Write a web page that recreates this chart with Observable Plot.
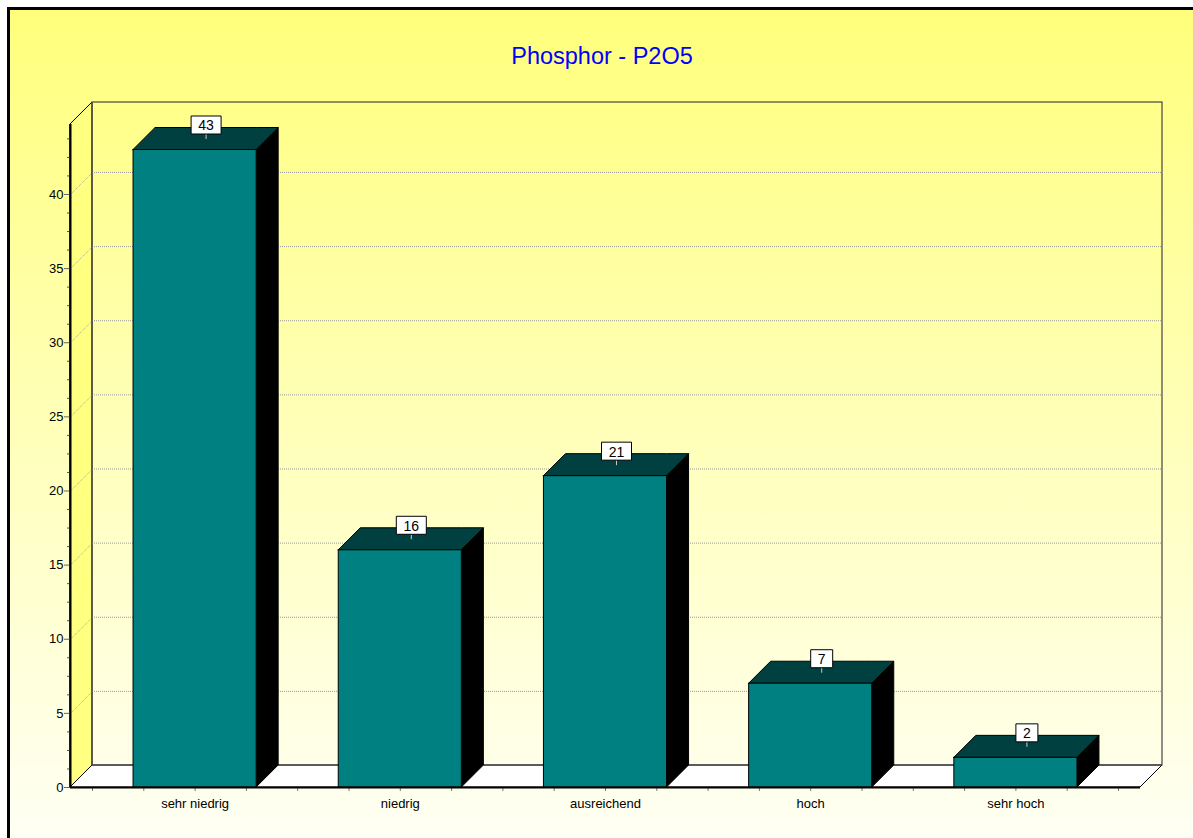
<!DOCTYPE html>
<html>
<head>
<meta charset="utf-8">
<script src="https://cdn.jsdelivr.net/npm/d3@7"></script>
<script src="https://cdn.jsdelivr.net/npm/@observablehq/plot@0.6"></script>
<style>
  html, body { margin: 0; padding: 0; background: #fff; overflow: hidden; }
  #panel {
    position: absolute; left: 7px; top: 7px; width: 1200px; height: 840px;
    border-left: 3px solid #000; border-top: 3px solid #000;
    background: linear-gradient(to bottom, #ffff7c 0%, #fffff6 100%);
  }
  #title {
    position: absolute; left: 0; top: 42px; width: 1204px; text-align: center;
    font: 23.5px/28px "Liberation Sans", Arial, sans-serif; color: #0000ff;
  }
  #chart { position: absolute; left: 0; top: 0; }
</style>
</head>
<body>
<div id="panel"></div>
<div id="title">Phosphor - P2O5</div>
<div id="chart"></div>
<script>
// Soil phosphorus classes and number of samples in each
const categories = ["sehr niedrig", "niedrig", "ausreichend", "hoch", "sehr hoch"];
const counts = [43, 16, 21, 7, 2];
const yTicks = [0, 5, 10, 15, 20, 25, 30, 35, 40];
const yMax = 44.72;

// Layout of the pseudo-3D box
const W = 1193, H = 838;
const mL = 70, mR = 53, mT = 124, mB = 51;
const DEPTH = 22;                                    // depth of the box in pixels
const plotW = W - mL - mR, plotH = H - mT - mB;
const n = categories.length;
const dX = DEPTH * n / (plotW - 2 * DEPTH);          // depth expressed in x units
const dY = DEPTH * yMax / plotH;                     // depth expressed in y units
const xLo = -0.5 - dX, xHi = n - 0.5 + dX;
const half = 0.3;                                    // half bar width in band units

const bars = categories.map((cat, i) => ({cat, i, v: counts[i]}));

// right-hand (shadow) faces
const sides = bars.flatMap(b => [
  {i: b.i, x: b.i + half,      y1: 0,  y2: b.v},
  {i: b.i, x: b.i + half + dX, y1: dY, y2: b.v + dY}
]);
// top faces
const tops = bars.flatMap(b => [
  {i: b.i, x: b.i - half,      y1: b.v,      y2: b.v},
  {i: b.i, x: b.i - half + dX, y1: b.v,      y2: b.v + dY},
  {i: b.i, x: b.i + half,      y1: b.v,      y2: b.v + dY},
  {i: b.i, x: b.i + half + dX, y1: b.v + dY, y2: b.v + dY}
]);
const floor = [
  {x: xLo,      y1: 0,  y2: 0},
  {x: -0.5,     y1: 0,  y2: dY},
  {x: xHi,      y1: 0,  y2: dY},
  {x: xHi + dX, y1: dY, y2: dY}
];
const leftWall = [
  {x: xLo,  y1: 0,  y2: yMax},
  {x: -0.5, y1: dY, y2: yMax + dY}
];
const minorTicks = d3.range(0, yMax, 1.25).filter(t => t % 5 !== 0);
const quarterTicks = d3.range(-0.5, n - 0.5 + 1e-9, 0.25);

const boxSymbol = (w, h) => ({draw(ctx) { ctx.rect(-w / 2, -h / 2, w, h); }});
const stemSymbol = {draw(ctx) { ctx.moveTo(0, 0); ctx.lineTo(0, -5); }};
const labelX = b => b.i + dX / 2;
const labelY = b => b.v + dY / 2;

const chart = Plot.plot({
  width: W, height: H,
  marginLeft: mL, marginRight: mR, marginTop: mT, marginBottom: mB,
  style: {background: "transparent", fontFamily: "'Liberation Sans', Arial, sans-serif", fontSize: "13px", color: "black", overflow: "visible"},
  x: {domain: [xLo, xHi]},
  y: {domain: [0, yMax]},
  marks: [
    // floor and left wall
    Plot.areaY(floor, {x: "x", y1: "y1", y2: "y2", fill: "white", stroke: "black", strokeWidth: 1}),
    Plot.areaY(leftWall, {x: "x", y1: "y1", y2: "y2", fill: "#ffff80", stroke: "black", strokeWidth: 1}),
    // back wall grid
    Plot.ruleY(yTicks.filter(t => t > 0), {y: t => t + dY, x1: () => -0.5, x2: () => xHi + dX, stroke: "#9a9a9a", strokeDasharray: "1,1"}),
    Plot.link(yTicks.filter(t => t > 0), {x1: () => xLo, y1: t => t, x2: () => -0.5, y2: t => t + dY, stroke: "#a8a8a8", strokeDasharray: "1,1"}),
    Plot.rect([0], {x1: () => -0.5, x2: () => xHi + dX, y1: () => dY, y2: () => yMax + dY, fill: "none", stroke: "#444", strokeWidth: 1.2}),
    // axes
    Plot.axisY({ticks: yTicks, tickSize: 6, tickPadding: 1, fontSize: 13, label: null, stroke: "#666"}),
    Plot.axisY({ticks: minorTicks, tickSize: 3, tickFormat: () => "", label: null, stroke: "#555"}),
    Plot.axisX({ticks: quarterTicks, tickSize: 4, tickFormat: () => "", label: null, stroke: "#777"}),
    Plot.axisX({ticks: d3.range(n), tickSize: 0, tickPadding: 11, tickFormat: i => categories[i], fontSize: 13, label: null}),
    Plot.ruleX([xLo], {y1: () => 0, y2: () => yMax, stroke: "black", strokeWidth: 2}),
    // bars
    Plot.areaY(sides, {x: "x", y1: "y1", y2: "y2", z: "i", fill: "black", stroke: "black", strokeWidth: 1}),
    Plot.areaY(tops, {x: "x", y1: "y1", y2: "y2", z: "i", fill: "#004040", stroke: "black", strokeWidth: 1}),
    Plot.rect(bars, {x1: b => b.i - half, x2: b => b.i + half, y1: () => 0, y2: "v", fill: "#008080", stroke: "black", strokeWidth: 1}),
    Plot.ruleY([0], {x1: () => xLo, x2: () => xHi, stroke: "black", strokeWidth: 2}),
    // value labels
    Plot.dot(bars, {x: labelX, y: labelY, symbol: stemSymbol, r: 3, fill: "none", stroke: "#c8c8c8", strokeWidth: 1}),
    Plot.dot(bars.filter(b => String(b.v).length === 1), {x: labelX, y: labelY, dy: -14, symbol: boxSymbol(22, 18), r: 5, fill: "white", stroke: "black", strokeWidth: 1}),
    Plot.dot(bars.filter(b => String(b.v).length > 1), {x: labelX, y: labelY, dy: -14, symbol: boxSymbol(30, 18), r: 5, fill: "white", stroke: "black", strokeWidth: 1}),
    Plot.text(bars, {x: labelX, y: labelY, dy: -13, text: b => String(b.v), fontSize: 14, fill: "black"})
  ]
});
document.getElementById("chart").appendChild(chart);
</script>
</body>
</html>
